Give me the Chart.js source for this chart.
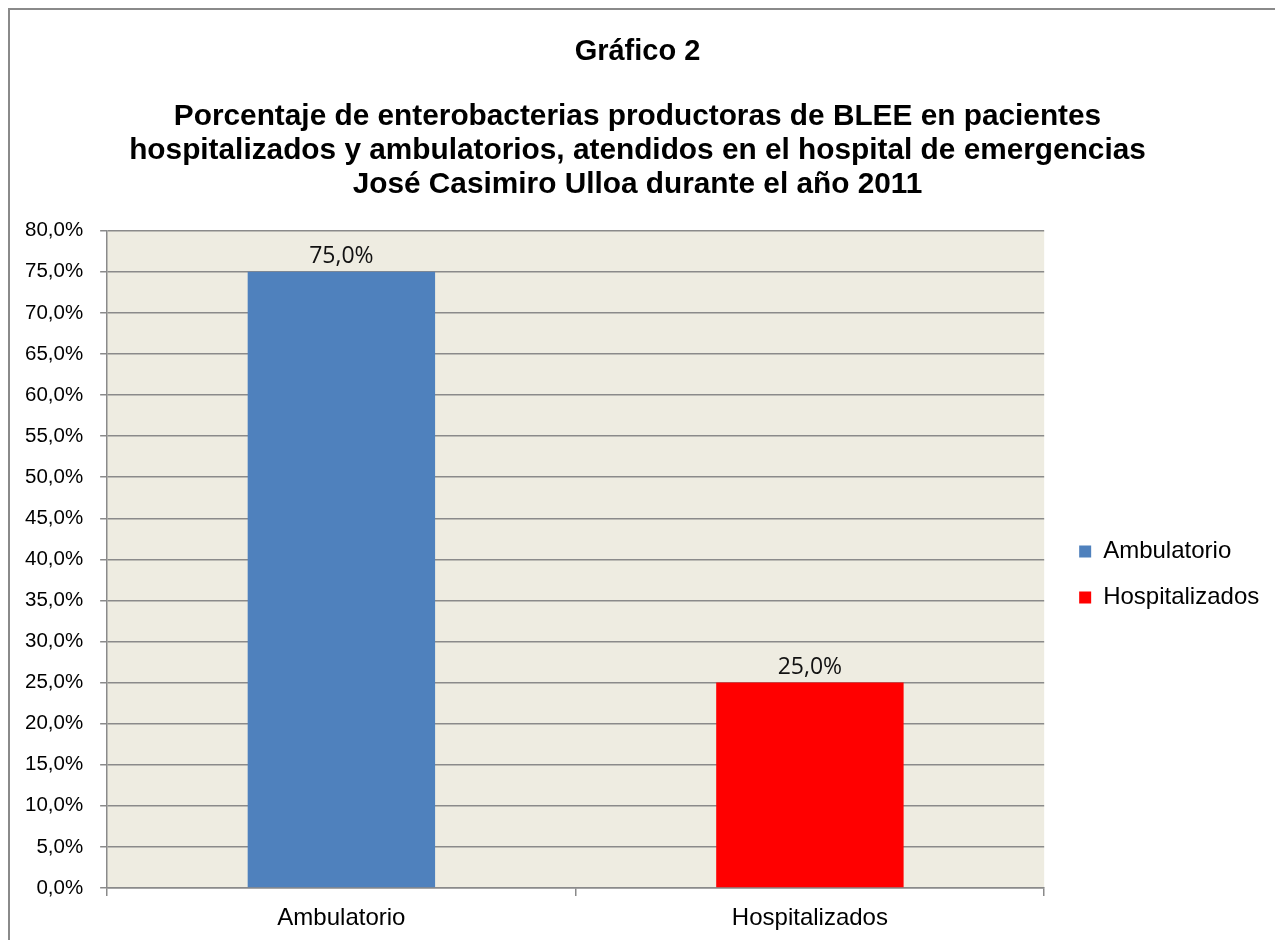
<!DOCTYPE html>
<html lang="es">
<head>
  <meta charset="UTF-8">
  <title>Gráfico 2 - BLEE</title>
  <script src="https://cdn.jsdelivr.net/npm/chart.js"></script>
  <style>
    html, body { margin: 0; padding: 0; background: #fff; }
    #wrap { position: relative; width: 1275px; height: 940px; }
    #frame {
      position: absolute; left: 8px; top: 8px; right: -10px; bottom: -10px;
      border-top: 2px solid #8a8a8a; border-left: 2px solid #8a8a8a;
      pointer-events: none;
    }
  </style>
</head>
<body>
  <div id="wrap">
    <canvas id="myChart" width="1275" height="940"></canvas>
    <div id="frame"></div>
  </div>

  <script>
    // datos
    const categories = ['Ambulatorio', 'Hospitalizados'];
    const percentValues = [75.0, 25.0];
    const barColors = ['#4F81BD', '#FF0000'];
    const yTickMax = 80;
    const yTickStep = 5;

    const titleText = 'Gráfico 2';
    const subtitleLines = [
      'Porcentaje de enterobacterias productoras de BLEE en pacientes',
      'hospitalizados y ambulatorios, atendidos en el hospital de emergencias',
      'José Casimiro Ulloa durante el año 2011'
    ];

    const fmt = v => v.toFixed(1).replace('.', ',') + '%';
    const FONT = '"Liberation Sans", Arial, sans-serif';

    // fondo del área de trazado
    const plotBg = {
      id: 'plotBg',
      beforeDraw(chart) {
        const { ctx, chartArea: a } = chart;
        ctx.save();
        ctx.fillStyle = '#EEECE1';
        ctx.fillRect(a.left, a.top, a.right - a.left, a.bottom - a.top);
        ctx.restore();
      }
    };

    // etiquetas de datos encima de las barras
    const valueLabels = {
      id: 'valueLabels',
      afterDatasetsDraw(chart) {
        const { ctx } = chart;
        const meta = chart.getDatasetMeta(0);
        ctx.save();
        ctx.font = '23px "Open Sans", sans-serif';
        ctx.fillStyle = '#111';
        ctx.textAlign = 'center';
        ctx.textBaseline = 'bottom';
        meta.data.forEach((bar, i) => {
          ctx.fillText(fmt(percentValues[i]), bar.x, bar.y - 4);
        });
        ctx.restore();
      }
    };

    const ctx = document.getElementById('myChart').getContext('2d');
    const myChart = new Chart(ctx, {
      type: 'bar',
      data: {
        labels: categories,
        datasets: [{
          label: 'Porcentaje',
          data: percentValues,
          backgroundColor: barColors,
          borderWidth: 0,
          barPercentage: 0.4,
          categoryPercentage: 1.0
        }]
      },
      options: {
        responsive: false,
        animation: false,
        layout: { padding: { left: 8, right: 8, top: 0, bottom: 0 } },
        plugins: {
          title: {
            display: true,
            text: titleText,
            color: '#000',
            font: { family: FONT, size: 29, weight: 'bold', lineHeight: 1.2 },
            padding: { top: 35, bottom: 30 }
          },
          subtitle: {
            display: true,
            text: subtitleLines,
            color: '#000',
            font: { family: FONT, size: 29.8, weight: 'bold', lineHeight: 1.14 },
            padding: { top: 0, bottom: 29 }
          },
          legend: {
            position: 'right',
            title: {
              display: true,
              text: ' ',
              font: { size: 1, lineHeight: 1 },
              padding: { top: 208, bottom: 0 }
            },
            labels: {
              boxWidth: 12,
              boxHeight: 12,
              padding: 22,
              color: '#000',
              font: { family: FONT, size: 24 },
              generateLabels: () => categories.map((c, i) => ({
                text: c,
                fillStyle: barColors[i],
                strokeStyle: barColors[i],
                fontColor: '#000',
                lineWidth: 0,
                hidden: false,
                index: i
              }))
            },
            onClick: null
          },
          tooltip: { enabled: false }
        },
        scales: {
          x: {
            offset: true,
            grid: {
              offset: true,
              drawOnChartArea: false,
              drawTicks: true,
              tickLength: 8,
              color: '#8a8a8a',
              lineWidth: 1.5
            },
            border: { display: true, color: '#8a8a8a', width: 1.5 },
            ticks: {
              color: '#000',
              padding: 10,
              font: { family: FONT, size: 24, lineHeight: 1.0 }
            }
          },
          y: {
            min: 0,
            max: yTickMax,
            grid: {
              color: '#8a8a8a',
              lineWidth: 1.5,
              tickLength: 7
            },
            border: { display: true, color: '#8a8a8a', width: 1.5 },
            ticks: {
              stepSize: yTickStep,
              color: '#000',
              padding: 17,
              font: { family: FONT, size: 20.5 },
              callback: v => fmt(v)
            }
          },
          // eje vacío: sólo deja el hueco entre el área de trazado y la leyenda
          gap: {
            type: 'linear',
            position: 'right',
            display: true,
            grid: { display: false },
            border: { display: false },
            ticks: { display: false },
            afterFit: s => { s.width = 13; }
          }
        }
      },
      plugins: [plotBg, valueLabels]
    });
  </script>
</body>
</html>
